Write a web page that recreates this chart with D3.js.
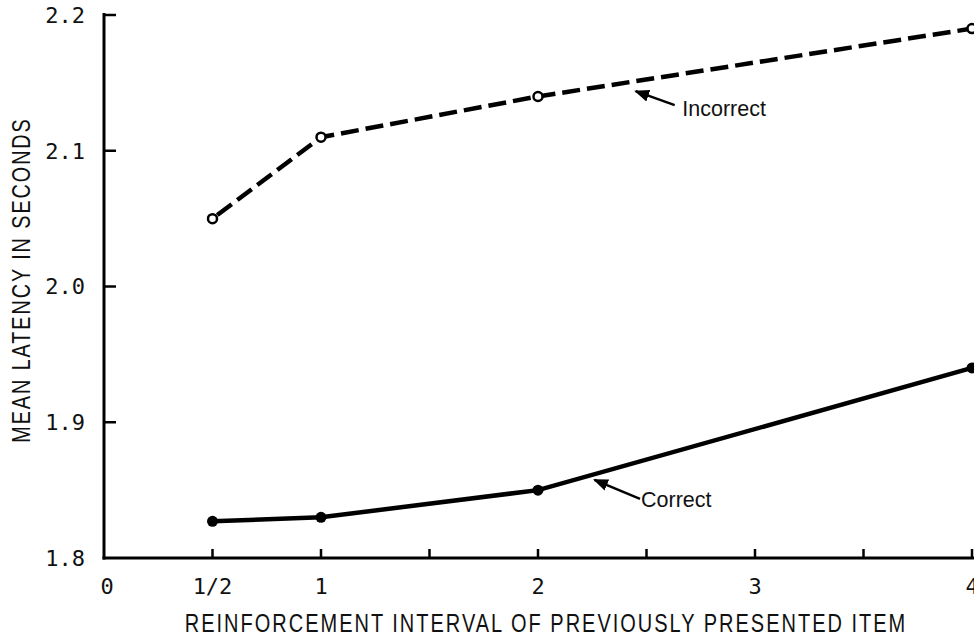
<!DOCTYPE html>
<html>
<head>
<meta charset="utf-8">
<script src="https://cdn.jsdelivr.net/npm/d3@7"></script>
<style>
  body { margin: 0; background: #fff; }
  svg { display: block; }
  .tick-label { font-family: "DejaVu Sans Mono", monospace; font-size: 22px; fill: #111; }
  .axis-title { font-family: "Liberation Sans", Arial, sans-serif; font-size: 25px; letter-spacing: 2.5px; fill: #111; }
  .note { font-family: "Liberation Sans", Arial, sans-serif; font-size: 21.5px; fill: #111; }
</style>
</head>
<body>
<div id="chart"></div>
<script>
// reinforcement interval of previously presented item
const intervals = [0.5, 1, 2, 4];
// mean latency in seconds
const incorrect = [2.05, 2.11, 2.14, 2.19];
const correct = [1.827, 1.83, 1.85, 1.94];

const xTickValues = [0, 0.5, 1, 2, 3, 4];
const xTickLabels = ["0", "1/2", "1", "2", "3", "4"];
const xMinorTicks = [0.5, 1, 1.5, 2, 2.5, 3, 3.5, 4];
const yTickValues = [1.8, 1.9, 2.0, 2.1, 2.2];

const width = 974, height = 639;

const svg = d3.select("#chart").append("svg")
    .attr("width", width)
    .attr("height", height);

const x = d3.scaleLinear().domain([0, 4]).range([104, 972]);
const y = d3.scaleLinear().domain([1.8, 2.2]).range([558, 15]);

// axes lines
svg.append("line")
    .attr("x1", x(0)).attr("x2", x(0))
    .attr("y1", y(2.2) - 2).attr("y2", y(1.8) + 1.5)
    .attr("stroke", "#000").attr("stroke-width", 3);
svg.append("line")
    .attr("x1", x(0) - 1.5).attr("x2", width)
    .attr("y1", y(1.8)).attr("y2", y(1.8))
    .attr("stroke", "#000").attr("stroke-width", 3);

// y ticks (pointing inside)
svg.selectAll(".ytick")
    .data(yTickValues.filter(d => d > 1.8))
  .enter().append("line")
    .attr("x1", x(0)).attr("x2", x(0) + 12)
    .attr("y1", d => y(d)).attr("y2", d => y(d))
    .attr("stroke", "#000").attr("stroke-width", 2.5);

svg.selectAll(".ylabel")
    .data(yTickValues)
  .enter().append("text")
    .attr("class", "tick-label")
    .attr("x", 85)
    .attr("y", d => y(d))
    .attr("dy", "0.36em")
    .attr("text-anchor", "end")
    .text(d => d.toFixed(1));

// x ticks (pointing up)
svg.selectAll(".xtick")
    .data(xMinorTicks)
  .enter().append("line")
    .attr("x1", d => x(d)).attr("x2", d => x(d))
    .attr("y1", y(1.8)).attr("y2", y(1.8) - 9)
    .attr("stroke", "#000").attr("stroke-width", 2.5);

svg.selectAll(".xlabel")
    .data(xTickValues)
  .enter().append("text")
    .attr("class", "tick-label")
    .attr("x", (d, i) => i === 0 ? x(d) + 3 : x(d))
    .attr("y", 594)
    .attr("text-anchor", "middle")
    .text((d, i) => xTickLabels[i]);

// axis titles (narrow, letter-spaced)
svg.append("text")
    .attr("class", "axis-title")
    .attr("transform", "translate(546,632) scale(0.8,1)")
    .attr("text-anchor", "middle")
    .text("REINFORCEMENT INTERVAL OF PREVIOUSLY PRESENTED ITEM");

svg.append("text")
    .attr("class", "axis-title")
    .attr("transform", "translate(30,280) rotate(-90) scale(0.79,1)")
    .attr("text-anchor", "middle")
    .text("MEAN LATENCY IN SECONDS");

// lines
const incData = intervals.map((d, i) => ({ x: d, y: incorrect[i] }));
const corData = intervals.map((d, i) => ({ x: d, y: correct[i] }));

const line = d3.line()
    .x(d => x(d.x))
    .y(d => y(d.y));

svg.append("path")
    .datum(incData)
    .attr("d", line)
    .attr("fill", "none")
    .attr("stroke", "#000")
    .attr("stroke-width", 4.5)
    .attr("stroke-dasharray", "18,7")
    .attr("stroke-dashoffset", -6);

svg.append("path")
    .datum(corData)
    .attr("d", line)
    .attr("fill", "none")
    .attr("stroke", "#000")
    .attr("stroke-width", 4.5);

svg.selectAll(".inc-dot")
    .data(incData)
  .enter().append("circle")
    .attr("cx", d => x(d.x))
    .attr("cy", d => y(d.y))
    .attr("r", 4.5)
    .attr("fill", "#fff")
    .attr("stroke", "#000")
    .attr("stroke-width", 2.5);

svg.selectAll(".cor-dot")
    .data(corData)
  .enter().append("circle")
    .attr("cx", d => x(d.x))
    .attr("cy", d => y(d.y))
    .attr("r", 5.5)
    .attr("fill", "#000");

// annotations
svg.append("defs").append("marker")
    .attr("id", "arrow")
    .attr("viewBox", "0 0 10 10")
    .attr("refX", 9).attr("refY", 5)
    .attr("markerWidth", 6).attr("markerHeight", 6)
    .attr("orient", "auto")
  .append("path")
    .attr("d", "M0,1 L10,5 L0,9 Z")
    .attr("fill", "#000");

const incAt = v => d3.scaleLinear().domain([2, 4]).range([incorrect[2], incorrect[3]])(v);
const corAt = v => d3.scaleLinear().domain([2, 4]).range([correct[2], correct[3]])(v);

svg.append("line")
    .attr("x1", x(2.63)).attr("y1", y(incAt(2.45)) + 24)
    .attr("x2", x(2.45)).attr("y2", y(incAt(2.45)) + 10)
    .attr("stroke", "#000").attr("stroke-width", 2.5)
    .attr("marker-end", "url(#arrow)");
svg.append("text")
    .attr("class", "note")
    .attr("x", x(2.665))
    .attr("y", y(incAt(2.45)) + 35)
    .text("Incorrect");

svg.append("line")
    .attr("x1", x(2.47)).attr("y1", y(corAt(2.25)) + 24)
    .attr("x2", x(2.26)).attr("y2", y(corAt(2.25)) + 5)
    .attr("stroke", "#000").attr("stroke-width", 2.5)
    .attr("marker-end", "url(#arrow)");
svg.append("text")
    .attr("class", "note")
    .attr("x", x(2.475))
    .attr("y", y(corAt(2.25)) + 32)
    .text("Correct");
</script>
</body>
</html>
